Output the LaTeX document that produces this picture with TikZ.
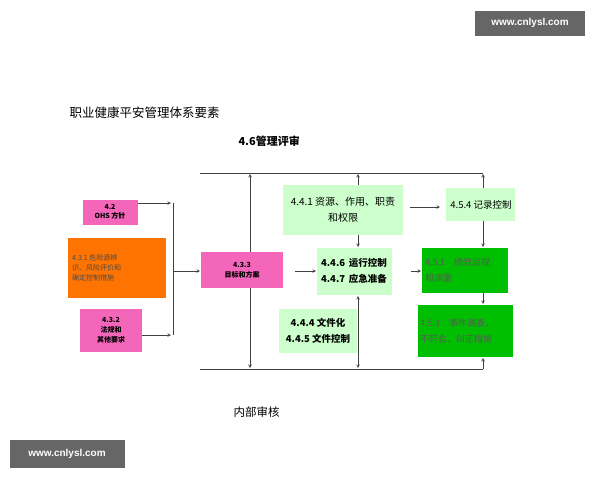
\documentclass[tikz,border=0pt]{standalone}
\usepackage{fontspec}
\newfontfamily\cjk{Noto Sans CJK SC}
\setmainfont{Liberation Sans}
\begin{document}
\begin{tikzpicture}[x=1pt,y=-1pt,>=stealth,
 bx/.style={draw=none,inner sep=0pt,align=center,font=\cjk\fontsize{7}{9}\selectfont},
 ln/.style={draw=black!75,line width=0.6pt},
 ar/.style={ln,->}]
\useasboundingbox (0,0) rectangle (600,480);
\fill[white] (0,0) rectangle (600,480);
\node[fill=black!60,text=white,font=\bfseries\fontsize{10}{12}\selectfont,minimum width=110,minimum height=25] (w1) at (530,23) {www.cnlysl.com};
\node[fill=black!60,text=white,font=\bfseries\fontsize{10}{12}\selectfont,minimum width=115,minimum height=28] (w2) at (67,454) {www.cnlysl.com};
\node[anchor=west,font=\cjk\fontsize{12.5}{14}\selectfont] (t) at (66,113) {职业健康平安管理体系要素};
\node[anchor=west,font=\cjk\bfseries\fontsize{11}{13}\selectfont] (mr) at (235,141) {4.6管理评审};
\node[anchor=west,font=\cjk\fontsize{11.5}{13}\selectfont] (ia) at (230,412) {内部审核};
% boxes
\fill[magenta!60] (83,200) rectangle (138,225); \node[bx,font=\cjk\bfseries\fontsize{7}{9}\selectfont] (b42) at (110,212) {4.2\\OHS 方针};
\fill[orange!90!red] (68,238) rectangle (166,298); \node[bx,anchor=west,align=left,text=black!70,font=\cjk\fontsize{7}{10}\selectfont] (b431) at (72,268) {4.3.1 危险源辨\\识、风险评价和\\确定控制措施};
\fill[magenta!60] (80,309) rectangle (142,352); \node[bx,font=\cjk\bfseries\fontsize{7}{10}\selectfont] (b432) at (111,330) {4.3.2\\法规和\\其他要求};
\fill[magenta!60] (201,252) rectangle (283,288); \node[bx,font=\cjk\bfseries\fontsize{7}{10}\selectfont] (b433) at (242,270) {4.3.3\\目标和方案};
\fill[green!20] (283,185) rectangle (403,235); \node[bx,font=\cjk\fontsize{10}{16}\selectfont] (b441) at (343,210) {4.4.1 资源、作用、职责\\和权限};
\fill[green!20] (317,248) rectangle (392,295); \node[bx,font=\cjk\bfseries\fontsize{9.5}{16}\selectfont] (b446) at (354,271) {4.4.6 \,运行控制\\4.4.7 \,应急准备};
\fill[green!20] (279,309) rectangle (357,353); \node[bx,font=\cjk\bfseries\fontsize{9.5}{16}\selectfont] (b444) at (318,331) {4.4.4 文件化\\4.4.5 文件控制};
\fill[green!20] (446,188) rectangle (515,221); \node[bx,font=\cjk\fontsize{9.5}{11}\selectfont] (b454) at (481,205) {4.5.4 记录控制};
\fill[green!75!black] (422,248) rectangle (508,293); \node[bx,anchor=west,align=left,text=black!65,font=\cjk\fontsize{9}{16}\selectfont] (b451) at (425,270) {4.5.1\quad 绩效监视\\和测量};
\fill[green!75!black] (418,305) rectangle (513,357); \node[bx,anchor=west,align=left,text=black!65,font=\cjk\fontsize{9}{16}\selectfont] (b453) at (420,331) {4.5.3\quad 事件调查，\\不符合，纠正措施};
% lines
\coordinate (tl) at (200,173); \coordinate (tr) at (483,173);
\coordinate (bl) at (200,369); \coordinate (br) at (483,369);
\draw[ln] (tl)--(tr); \draw[ln] (bl)--(br);
\draw[ln] (173,203)--(173,335);
\draw[ar] (138,203)--(171,203);
\draw[ar] (142,335)--(171,335);
\draw[ar] (173,271)--(200,271);
\draw[ar] (250,252)--(250,174);
\draw[ar] (250,288)--(250,368);
\draw[ar] (358,185)--(358,174);
\draw[ar] (358,235)--(358,247);
\draw[ar] (295,271)--(316,271);
\draw[ar] (358,330)--(358,296);
\draw[ar] (358,330)--(358,368);
\draw[ar] (410,207)--(440,207);
\draw[ar] (483,188)--(483,174);
\draw[ar] (483,221)--(483,247);
\draw[ar] (411,271)--(421,271);
\draw[ar] (483,293)--(483,304);
\draw[ar] (483,369)--(483,358);
\end{tikzpicture}
\end{document}
